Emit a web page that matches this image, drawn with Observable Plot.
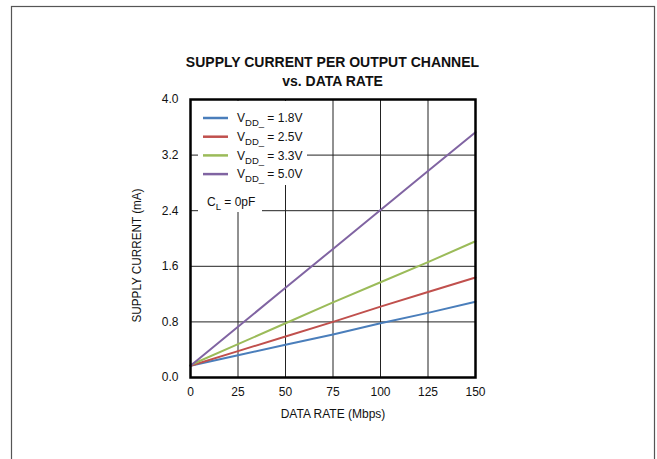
<!DOCTYPE html>
<html><head><meta charset="utf-8">
<script src="https://cdn.jsdelivr.net/npm/d3@7"></script>
<script src="https://cdn.jsdelivr.net/npm/@observablehq/plot@0.6"></script>
<style>
body{margin:0;background:#fff;}
</style></head><body><div id="chart"></div>
<script>
const dataRate = [0, 25, 50, 75, 100, 125, 150];
const seriesNames = ["1.8V", "2.5V", "3.3V", "5.0V"];
const current18 = [0.17, 0.32, 0.47, 0.62, 0.78, 0.93, 1.09];
const current25 = [0.17, 0.38, 0.59, 0.80, 1.02, 1.23, 1.44];
const current33 = [0.18, 0.48, 0.78, 1.08, 1.37, 1.66, 1.96];
const current50 = [0.17, 0.73, 1.29, 1.85, 2.41, 2.97, 3.53];
const seriesColors = ["#4a7ebb", "#c0504d", "#9bbb59", "#8064a2"];
const xTicks = [0, 25, 50, 75, 100, 125, 150];
const yTicks = [0, 0.8, 1.6, 2.4, 3.2, 4.0];
const titleLines = ["SUPPLY CURRENT PER OUTPUT CHANNEL", "vs. DATA RATE"];
const xLabel = "DATA RATE (Mbps)";
const yLabel = "SUPPLY CURRENT (mA)";
const noteLabel = "0pF";

(function () {
const allSeries = [current18, current25, current33, current50];
const rows = [];
allSeries.forEach((vals, i) => vals.forEach((v, j) => rows.push({series: seriesNames[i], x: dataRate[j], y: v})));

const font = '"Liberation Sans",Arial,sans-serif';

const plot = Plot.plot({
  width: 657, height: 459,
  marginLeft: 190, marginRight: 182, marginTop: 99, marginBottom: 82,
  style: {fontFamily: font, fontSize: "12px", color: "#111", background: "white"},
  x: {domain: [0, 150]},
  y: {domain: [0, 4]},
  color: {domain: seriesNames, range: seriesColors},
  marks: [
    Plot.gridX(xTicks.slice(1, -1), {stroke: "#222", strokeOpacity: 1, strokeWidth: 1}),
    Plot.gridY(yTicks.slice(1, -1), {stroke: "#222", strokeOpacity: 1, strokeWidth: 1}),
    Plot.line(rows, {x: "x", y: "y", z: "series", stroke: "series", strokeWidth: 2}),
    Plot.frame({stroke: "#000", strokeWidth: 2.5}),
    Plot.axisX({ticks: xTicks, tickSize: 0, tickPadding: 10, label: xLabel, labelAnchor: "center", labelOffset: 40, labelArrow: "none", fontSize: 12}),
    Plot.axisY({ticks: yTicks, tickSize: 0, tickPadding: 12, tickFormat: d3.format(".1f"), label: yLabel, labelAnchor: "center", labelOffset: 58, labelArrow: "none", fontSize: 12})
  ]
});

document.getElementById("chart").appendChild(plot);
const svg = d3.select(plot);
const xs = plot.scale("x"), ys = plot.scale("y");
const left = xs.range[0], right = xs.range[1], topY = ys.range[1];
const cx = (left + right) / 2;

// condense and shift the y-axis label like the reference
svg.selectAll("text").filter(function () { return this.textContent === yLabel; })
  .attr("textLength", 134).attr("lengthAdjust", "spacingAndGlyphs").attr("dx", -17);

// outer border
svg.insert("rect", ":first-child").attr("x", 11.5).attr("y", 6.5).attr("width", 643).attr("height", 460)
  .attr("fill", "none").attr("stroke", "#555").attr("stroke-width", 1.2);

// title
const t = svg.append("text").attr("text-anchor", "middle").attr("font-weight", "bold").attr("font-size", 14)
  .attr("fill", "#111").attr("font-family", font);
titleLines.forEach((line, i) => t.append("tspan").attr("x", cx).attr("y", topY - 32 + i * 19).text(line));

// legend
const lg = svg.append("g").attr("font-family", font).attr("font-size", 12).attr("fill", "#111").attr("text-anchor", "start");
lg.append("rect").attr("x", left + 8).attr("y", topY + 2).attr("width", 109).attr("height", 84).attr("fill", "white");
lg.append("rect").attr("x", left + 8).attr("y", topY + 86).attr("width", 64).attr("height", 27).attr("fill", "white");
seriesNames.forEach((name, i) => {
  const yy = topY + 19 + i * 18.7;
  lg.append("line").attr("x1", left + 13).attr("x2", left + 38).attr("y1", yy).attr("y2", yy)
    .attr("stroke", seriesColors[i]).attr("stroke-width", 2.5);
  const tx = lg.append("text").attr("x", left + 47).attr("y", yy + 4.3);
  tx.append("tspan").text("V");
  tx.append("tspan").attr("font-size", 9.5).attr("dy", 4).text("DD_");
  tx.append("tspan").attr("dy", -4).text(" = " + name);
});
const ct = lg.append("text").attr("x", left + 17).attr("y", topY + 107);
ct.append("tspan").text("C");
ct.append("tspan").attr("font-size", 9.5).attr("dy", 4).text("L");
ct.append("tspan").attr("dy", -4).text(" = " + noteLabel);
})();
</script></body></html>
